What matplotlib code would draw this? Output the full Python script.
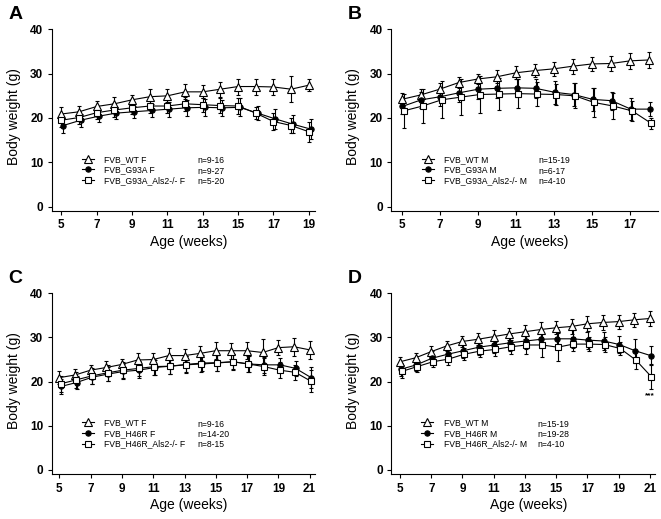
import numpy as np
import matplotlib
matplotlib.use("Agg")
import matplotlib.pyplot as plt

plt.rcParams['font.family'] = ['Liberation Sans', 'DejaVu Sans']

# ---- data (body weight, g; mean and SEM) ----
weeks_A = np.arange(5, 20)
wt_A = [20.9, 21.4, 22.6, 23.2, 24.1, 24.8, 25.0, 25.9, 25.9, 26.5, 27.1, 27.1, 27.0, 26.5, 27.4]
wt_A_err = [1.5, 1.3, 1.2, 1.5, 1.2, 1.7, 1.5, 1.7, 1.5, 1.7, 1.8, 1.8, 1.9, 3.0, 1.3]
mut_A = [18.3, 19.5, 20.4, 21.1, 21.4, 21.7, 22.0, 22.3, 22.4, 22.3, 22.4, 21.1, 19.8, 18.6, 17.5]
mut_A_err = [1.8, 1.5, 1.3, 1.4, 1.4, 1.4, 1.7, 1.8, 1.9, 1.8, 2.0, 1.6, 2.2, 2.0, 2.2]
ko_A = [19.5, 20.1, 21.2, 21.8, 22.3, 22.7, 22.7, 23.2, 23.0, 22.8, 22.7, 21.1, 19.2, 18.3, 16.9]
ko_A_err = [1.5, 1.5, 1.4, 1.5, 1.5, 1.5, 1.6, 1.6, 1.6, 1.7, 1.8, 1.4, 2.0, 1.8, 2.3]

weeks_B = np.arange(5, 19)
wt_B = [24.2, 25.2, 26.5, 28.0, 28.8, 29.3, 30.2, 30.7, 31.1, 31.7, 32.2, 32.3, 32.9, 33.1]
wt_B_err = [1.4, 1.4, 1.3, 1.3, 1.2, 1.5, 1.5, 1.4, 1.6, 1.7, 1.5, 1.7, 1.8, 1.9]
mut_B = [22.6, 24.1, 24.8, 25.7, 26.5, 26.7, 26.8, 26.7, 25.8, 25.3, 24.2, 23.9, 22.0, 22.0]
mut_B_err = [1.7, 1.8, 2.0, 2.0, 2.3, 2.2, 2.1, 2.1, 2.6, 2.5, 2.6, 2.0, 2.4, 1.6]
ko_B = [21.6, 22.7, 24.1, 24.7, 25.3, 25.4, 25.5, 25.4, 25.3, 25.0, 23.5, 22.7, 21.6, 18.8]
ko_B_err = [3.9, 3.9, 4.2, 4.0, 4.1, 3.6, 3.3, 2.7, 2.4, 2.8, 3.2, 3.0, 2.3, 1.2]

weeks_C = np.arange(5, 22)
wt_C = [20.9, 21.5, 22.6, 23.2, 23.9, 24.9, 25.0, 25.9, 25.9, 26.4, 27.0, 27.0, 27.0, 26.6, 27.7, 27.9, 27.2]
wt_C_err = [1.4, 1.3, 1.2, 1.5, 1.3, 1.6, 1.5, 1.7, 1.5, 1.7, 1.9, 1.8, 1.9, 3.0, 1.7, 2.0, 2.0]
mut_C = [18.9, 19.8, 21.0, 21.7, 22.3, 22.6, 23.2, 23.5, 23.9, 24.2, 24.3, 24.5, 24.0, 23.8, 23.8, 23.0, 20.9]
mut_C_err = [1.6, 1.5, 1.5, 1.6, 1.6, 1.7, 1.7, 1.8, 1.8, 1.8, 1.8, 1.7, 1.8, 1.8, 1.5, 1.7, 2.3]
ko_C = [19.5, 20.4, 21.3, 22.0, 22.6, 23.0, 23.4, 23.5, 23.8, 24.0, 24.2, 24.5, 24.0, 23.4, 22.6, 22.1, 20.1]
ko_C_err = [1.8, 1.8, 1.8, 1.8, 1.8, 1.7, 1.8, 1.8, 1.9, 1.9, 1.9, 1.8, 1.9, 2.0, 1.8, 1.7, 2.5]

weeks_D = np.arange(5, 22)
wt_D = [24.5, 25.4, 26.8, 28.1, 29.1, 29.6, 30.2, 30.8, 31.3, 31.8, 32.2, 32.5, 33.1, 33.4, 33.6, 34.0, 34.3]
wt_D_err = [1.0, 1.1, 1.2, 1.2, 1.2, 1.4, 1.5, 1.4, 1.6, 1.7, 1.5, 1.7, 1.8, 1.8, 1.6, 1.6, 1.7]
mut_D = [22.8, 23.8, 25.3, 26.2, 27.0, 27.8, 28.3, 28.8, 29.2, 29.6, 29.7, 29.7, 29.4, 29.2, 28.4, 27.0, 25.9]
mut_D_err = [1.5, 1.5, 1.6, 1.6, 1.7, 1.8, 1.8, 1.8, 1.9, 2.0, 2.0, 2.0, 2.1, 2.0, 2.0, 2.7, 2.2]
ko_D = [22.3, 23.4, 24.5, 25.1, 26.2, 26.9, 27.3, 27.9, 28.3, 28.3, 27.8, 28.5, 28.5, 28.4, 27.5, 24.9, 21.1]
ko_D_err = [1.5, 1.2, 1.3, 1.4, 1.4, 1.3, 1.6, 1.6, 2.0, 2.8, 3.2, 1.6, 1.6, 1.6, 1.5, 2.0, 2.8]

panels = [
    dict(letter="A", weeks=weeks_A, xlim=(4.45, 19.35), xticks=range(5, 20, 2),
         series=[(wt_A, wt_A_err), (mut_A, mut_A_err), (ko_A, ko_A_err)],
         labels=["FVB_WT F", "FVB_G93A F", "FVB_G93A_Als2-/- F"],
         ns=["n=9-16", "n=9-27", "n=5-20"], shift=(0, 0.1, 0),
         rect=[0.0782, 0.5934, 0.3983, 0.350]),
    dict(letter="B", weeks=weeks_B, xlim=(4.44, 18.46), xticks=range(5, 18, 2),
         series=[(wt_B, wt_B_err), (mut_B, mut_B_err), (ko_B, ko_B_err)],
         labels=["FVB_WT M", "FVB_G93A M", "FVB_G93A_Als2-/- M"],
         ns=["n=15-19", "n=6-17", "n=4-10"], shift=(0, 0.03, 0.1),
         rect=[0.5915, 0.5934, 0.4040, 0.350]),
    dict(letter="C", weeks=weeks_C, xlim=(4.51, 21.34), xticks=range(5, 22, 2),
         series=[(wt_C, wt_C_err), (mut_C, mut_C_err), (ko_C, ko_C_err)],
         labels=["FVB_WT F", "FVB_H46R F", "FVB_H46R_Als2-/- F"],
         ns=["n=9-16", "n=14-20", "n=8-15"], shift=(0, 0.1, 0.08),
         rect=[0.0782, 0.0861, 0.3983, 0.3487]),
    dict(letter="D", weeks=weeks_D, xlim=(4.42, 21.33), xticks=range(5, 22, 2),
         series=[(wt_D, wt_D_err), (mut_D, mut_D_err), (ko_D, ko_D_err)],
         labels=["FVB_WT M", "FVB_H46R M", "FVB_H46R_Als2-/- M"],
         ns=["n=15-19", "n=19-28", "n=4-10"], shift=(0, 0.05, 0.1),
         rect=[0.5915, 0.0861, 0.3994, 0.3487]),
]

styles = [
    dict(marker="^", mfc="white", ms=5.5),
    dict(marker="o", mfc="black", ms=3.8),
    dict(marker="s", mfc="white", ms=5.0),
]

fig = plt.figure(figsize=(6.61, 5.19), dpi=100)

for p in panels:
    ax = fig.add_axes(p["rect"])
    handles = []
    for (vals, errs), st, dx in zip(p["series"], styles, p["shift"]):
        cont = ax.errorbar(p["weeks"] + dx, vals, yerr=errs, color="black",
                           lw=0.8, elinewidth=0.8, capsize=1.7, capthick=0.8,
                           marker=st["marker"], mfc=st["mfc"], mec="black",
                           mew=0.8, ms=st["ms"])
        handles.append(cont[0])

    ax.set_xlim(*p["xlim"])
    ax.set_ylim(-1, 40)
    ax.set_xticks(list(p["xticks"]))
    ax.set_yticks([0, 10, 20, 30, 40])
    for s in ["top", "right"]:
        ax.spines[s].set_visible(False)
    for s in ["left", "bottom"]:
        ax.spines[s].set_linewidth(0.8)
    ax.tick_params(direction="out", length=3, width=0.8, labelsize=8.5, pad=3)
    for lab in ax.get_xticklabels() + ax.get_yticklabels():
        lab.set_fontweight("bold")

    ax.set_ylabel("Body weight (g)", fontsize=10)
    ax.set_xlabel("Age (weeks)", fontsize=10)
    ax.yaxis.set_label_coords(-0.117, 0.52)
    ax.xaxis.set_label_coords(0.52, -0.13)

    ax.legend(handles, p["labels"], loc="upper left",
              bbox_to_anchor=(0.115, 0.31), frameon=False,
              prop=dict(size=6.2), handlelength=1.4,
              handletextpad=1.2, labelspacing=0.2, borderpad=0,
              borderaxespad=0)
    rows = [0.278, 0.220, 0.163]
    for n, yy in zip(p["ns"], rows):
        ax.text(0.553, yy, n, transform=ax.transAxes, fontsize=6.2,
                va="center", ha="left")

    x0 = p["rect"][0]
    y1 = p["rect"][1] + p["rect"][3]
    fig.text(x0 - 0.066, y1 + 0.045, p["letter"], fontsize=14,
             fontweight="bold", va="top", ha="left")

    if p["letter"] == "D":
        ax.text(p["weeks"][-1], 16.8, "***", fontsize=6, fontweight="bold",
                ha="center", va="center")

fig.savefig("out.png", dpi=100)
